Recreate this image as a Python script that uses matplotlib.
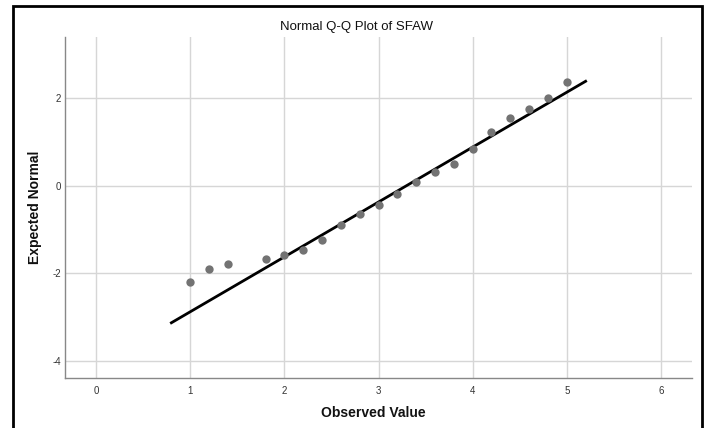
import matplotlib
matplotlib.use("Agg")
import matplotlib.pyplot as plt
from matplotlib.patches import Rectangle

observed = [1.0, 1.2, 1.4, 1.8, 2.0, 2.2, 2.4, 2.6, 2.8, 3.0,
            3.2, 3.4, 3.6, 3.8, 4.0, 4.2, 4.4, 4.6, 4.8, 5.0]
expected = [-2.19, -1.90, -1.78, -1.67, -1.58, -1.46, -1.25, -0.89, -0.65, -0.44,
            -0.20, 0.08, 0.30, 0.50, 0.83, 1.22, 1.55, 1.74, 2.00, 2.36]

# reference line end points
line_x = [0.8, 5.2]
line_y = [-3.13, 2.38]

x_ticks = [0, 1, 2, 3, 4, 5, 6]
y_ticks = [-4, -2, 0, 2]

plt.rcParams['font.family'] = ['Liberation Sans', 'DejaVu Sans']
plt.rcParams['axes.unicode_minus'] = False

fig = plt.figure(figsize=(7.11, 4.28), dpi=100)
ax = fig.add_axes([65 / 711, 1 - 378 / 428, 627 / 711, 341 / 428])

ax.set_xlim(-0.33, 6.33)
ax.set_ylim(-4.39, 3.39)
ax.set_xticks(x_ticks)
ax.set_yticks(y_ticks)
ax.grid(True, color='#d6d6d6', linewidth=1.0)
ax.set_axisbelow(True)
ax.tick_params(length=0, labelsize=7, colors='#333333')
ax.tick_params(axis='x', pad=6)
ax.tick_params(axis='y', pad=3)

for side in ['top', 'right']:
    ax.spines[side].set_visible(False)
for side in ['left', 'bottom']:
    ax.spines[side].set_color('#888888')
    ax.spines[side].set_linewidth(1.0)

ax.plot(line_x, line_y, color='black', linewidth=2.0, zorder=2)
ax.scatter(observed, expected, s=36, color='#737373', zorder=3, linewidths=0)

fig.text(356 / 711, 1 - 27 / 428, 'Normal Q-Q Plot of SFAW', ha='center', va='center',
         fontsize=9.5, color='#111111')
fig.text(373 / 711, 1 - 413 / 428, 'Observed Value', ha='center', va='center',
         fontsize=10, fontweight='bold', color='#111111')
fig.text(35 / 711, 1 - 207 / 428, 'Expected Normal', ha='center', va='center',
         rotation=90, fontsize=10, fontweight='bold', color='#111111')

# outer black frame
fig.patches.append(Rectangle((13 / 711, -0.05), 689 / 711, 1.05 - 6 / 428,
                             transform=fig.transFigure, fill=False,
                             edgecolor='black', linewidth=2.0))

fig.savefig('out.png', dpi=100)
